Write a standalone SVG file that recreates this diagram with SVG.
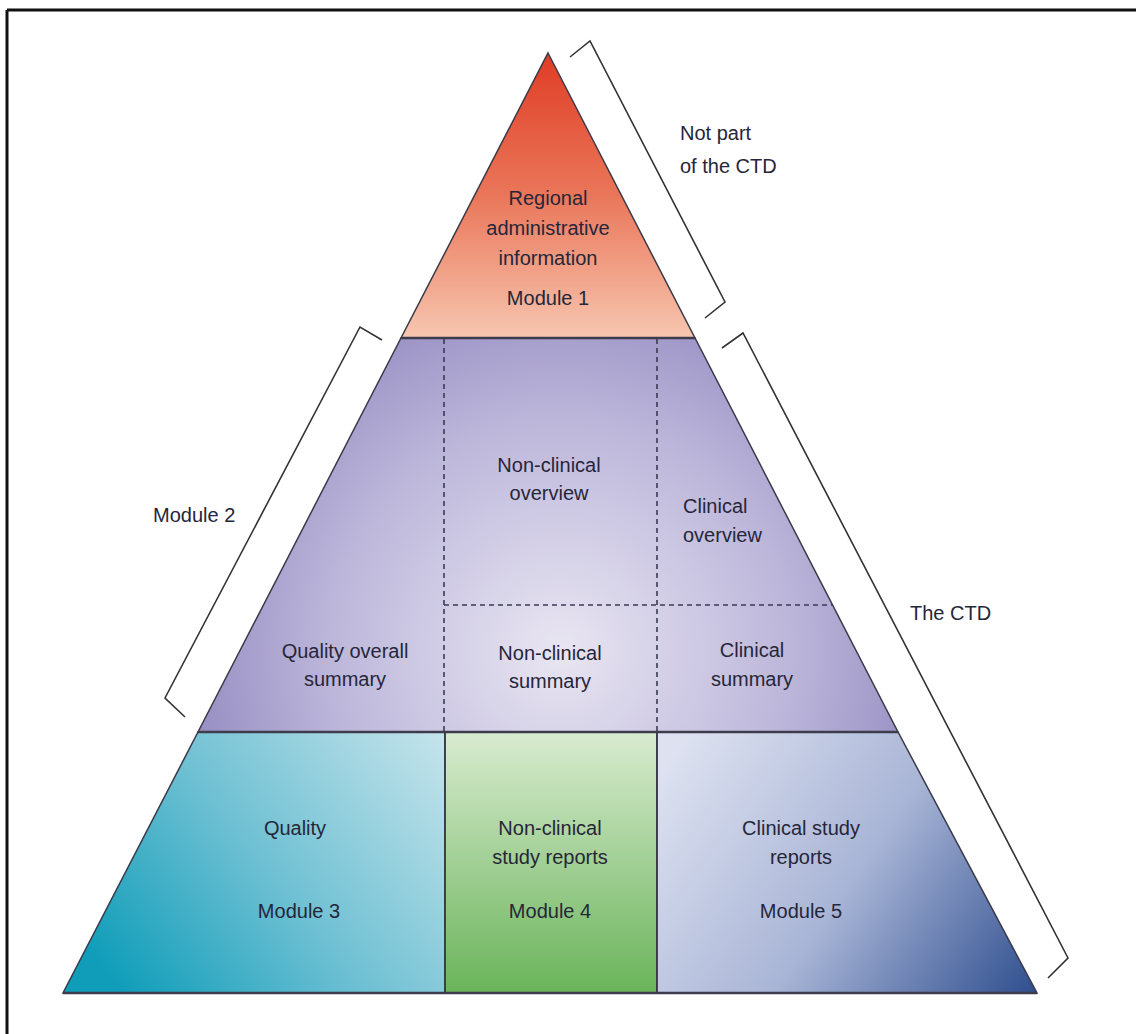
<svg xmlns="http://www.w3.org/2000/svg" width="1136" height="1034" viewBox="0 0 1136 1034">
  <style>
    .lbl { font-family: "Liberation Sans", Arial, sans-serif; font-size: 20px; fill: #26263a; }
    .mid { text-anchor: middle; }
    .shape { stroke: #3a3a48; stroke-width: 1.5; }
    .edge { fill: none; stroke: #3a3a48; stroke-width: 1.5; }
    .band { fill: none; stroke: #3c3c4c; stroke-width: 2.5; }
    .dash { fill: none; stroke: #3b3b55; stroke-width: 1.6; stroke-dasharray: 5 4; }
    .brk { fill: none; stroke: #333333; stroke-width: 1.6; stroke-linejoin: miter; }
  </style>
  <defs>
    <linearGradient id="g1" gradientUnits="userSpaceOnUse" x1="0" y1="53" x2="0" y2="338">
      <stop offset="0" stop-color="#df3d25"/>
      <stop offset="0.5" stop-color="#ea7659"/>
      <stop offset="1" stop-color="#f7c6b0"/>
    </linearGradient>
    <radialGradient id="g2" gradientUnits="userSpaceOnUse" cx="560" cy="650" r="420">
      <stop offset="0" stop-color="#e9e6f2"/>
      <stop offset="0.55" stop-color="#bcb6da"/>
      <stop offset="1" stop-color="#8a80ba"/>
    </radialGradient>
    <linearGradient id="g3" gradientUnits="userSpaceOnUse" x1="120" y1="993" x2="445" y2="733">
      <stop offset="0" stop-color="#0f9db9"/>
      <stop offset="0.45" stop-color="#6cbfd2"/>
      <stop offset="1" stop-color="#c6e4eb"/>
    </linearGradient>
    <linearGradient id="g4" gradientUnits="userSpaceOnUse" x1="0" y1="733" x2="0" y2="993">
      <stop offset="0" stop-color="#d8ebcf"/>
      <stop offset="1" stop-color="#6ab45a"/>
    </linearGradient>
    <linearGradient id="g5" gradientUnits="userSpaceOnUse" x1="680" y1="745" x2="1037" y2="993">
      <stop offset="0" stop-color="#dde1f0"/>
      <stop offset="0.5" stop-color="#a9b5d6"/>
      <stop offset="1" stop-color="#2e4e8e"/>
    </linearGradient>
  </defs>

  <g id="frame">
    <line x1="7" y1="10" x2="1136" y2="10" stroke="#111" stroke-width="3"/>
    <line x1="7" y1="10" x2="7" y2="1034" stroke="#111" stroke-width="3"/>
  </g>

  <g id="module1">
    <polygon class="shape" points="548,53 695,338 401,338" fill="url(#g1)"/>
    <text class="lbl mid" x="548" y="205">Regional</text>
    <text class="lbl mid" x="548" y="235">administrative</text>
    <text class="lbl mid" x="548" y="265">information</text>
    <text class="lbl mid" x="548" y="305">Module 1</text>
  </g>

  <g id="module2">
    <polygon class="shape" points="401,338 695,338 898,732 198,732" fill="url(#g2)"/>
    <g id="quality-overall-summary">
      <text class="lbl mid" x="345" y="658">Quality overall</text>
      <text class="lbl mid" x="345" y="686">summary</text>
    </g>
    <g id="nonclinical-overview">
      <text class="lbl mid" x="549" y="472">Non-clinical</text>
      <text class="lbl mid" x="549" y="500">overview</text>
    </g>
    <g id="clinical-overview">
      <text class="lbl" x="683" y="513">Clinical</text>
      <text class="lbl" x="683" y="542">overview</text>
    </g>
    <g id="nonclinical-summary">
      <text class="lbl mid" x="550" y="660">Non-clinical</text>
      <text class="lbl mid" x="550" y="688">summary</text>
    </g>
    <g id="clinical-summary">
      <text class="lbl mid" x="752" y="657">Clinical</text>
      <text class="lbl mid" x="752" y="686">summary</text>
    </g>
  </g>

  <g id="module3">
    <polygon class="shape" points="198,732 445,732 445,993 63,993" fill="url(#g3)"/>
    <text class="lbl mid" x="295" y="835">Quality</text>
    <text class="lbl mid" x="299" y="918">Module 3</text>
  </g>

  <g id="module4">
    <rect class="shape" x="445" y="732" width="212" height="261" fill="url(#g4)"/>
    <text class="lbl mid" x="550" y="835">Non-clinical</text>
    <text class="lbl mid" x="550" y="864">study reports</text>
    <text class="lbl mid" x="550" y="918">Module 4</text>
  </g>

  <g id="module5">
    <polygon class="shape" points="657,732 898,732 1037,993 657,993" fill="url(#g5)"/>
    <text class="lbl mid" x="801" y="835">Clinical study</text>
    <text class="lbl mid" x="801" y="864">reports</text>
    <text class="lbl mid" x="801" y="918">Module 5</text>
  </g>

  <g id="connectors">
    <line class="dash" x1="444" y1="339" x2="444" y2="731"/>
    <line class="dash" x1="657" y1="339" x2="657" y2="731"/>
    <line class="dash" x1="444" y1="605" x2="833" y2="605"/>
    <line class="band" x1="401" y1="338" x2="695" y2="338"/>
    <line class="band" x1="198" y1="732" x2="898" y2="732"/>
    <line class="band" x1="63" y1="993" x2="1037" y2="993"/>
    <line class="edge" x1="445" y1="732" x2="445" y2="993"/>
    <line class="edge" x1="657" y1="732" x2="657" y2="993"/>
    <polyline class="brk" points="570,57 590,41 725,302 705,318"/>
    <polyline class="brk" points="382,340 360,327 165,698 185,717"/>
    <polyline class="brk" points="722,348 743,333 1068,958 1048,978"/>
  </g>

  <g id="annotations">
    <text class="lbl" x="680" y="140">Not part</text>
    <text class="lbl" x="680" y="173">of the CTD</text>
    <text class="lbl" x="153" y="522">Module 2</text>
    <text class="lbl" x="910" y="620">The CTD</text>
  </g>
</svg>
